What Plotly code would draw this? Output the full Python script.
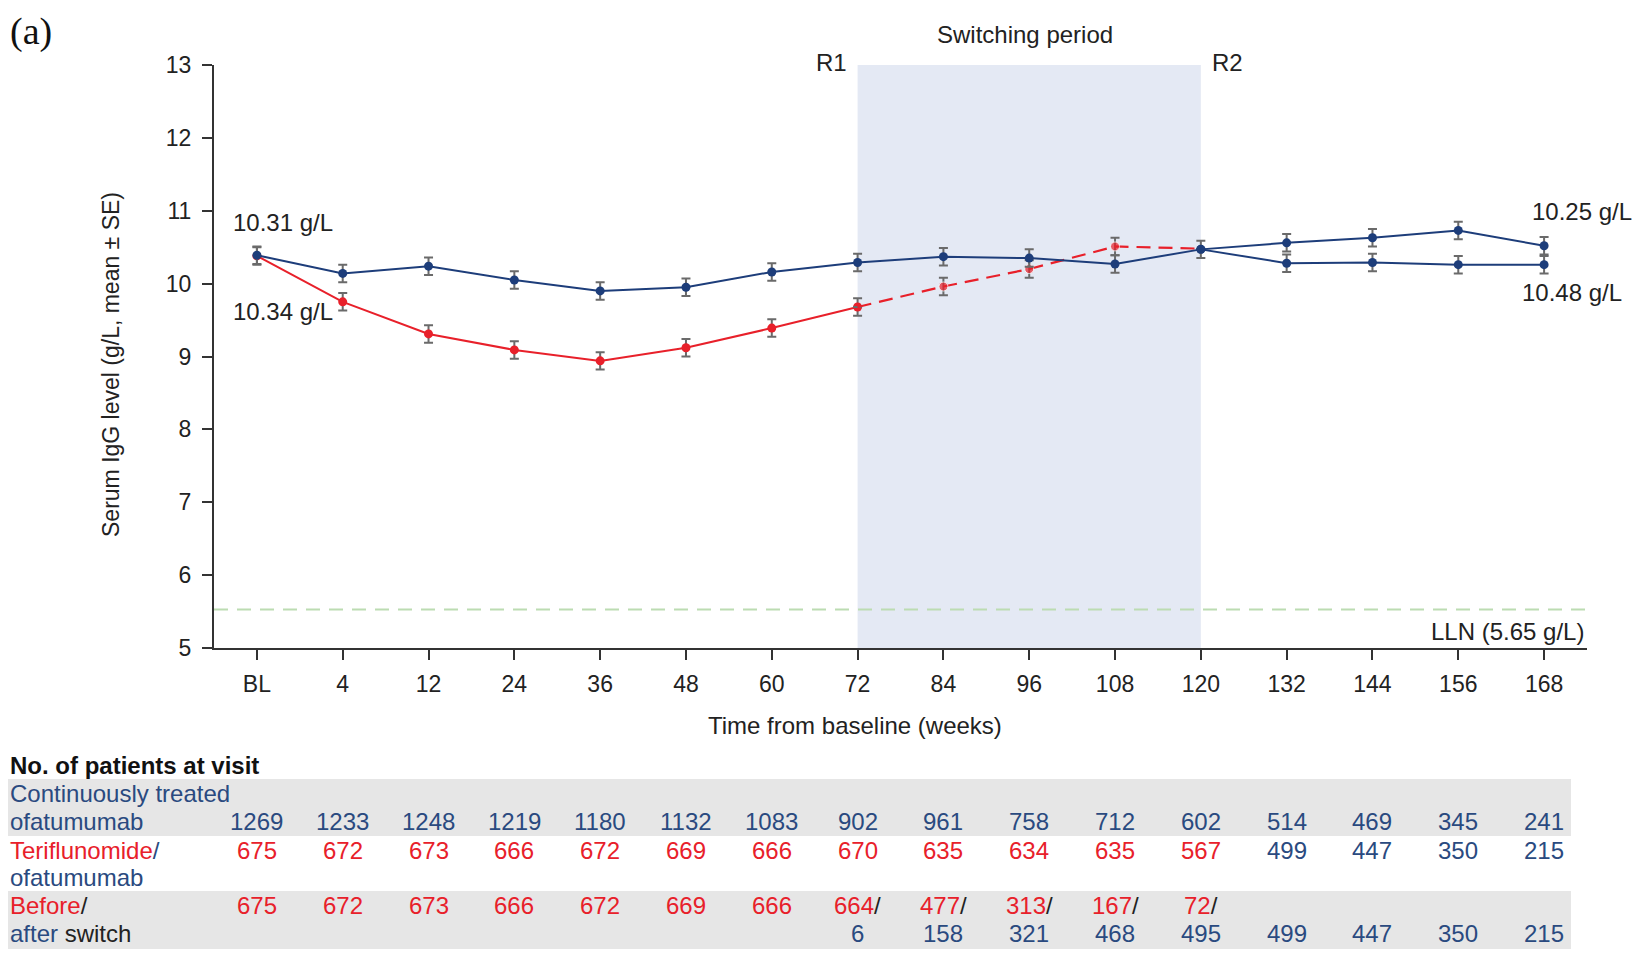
import plotly.graph_objects as go

# ---------------- data ----------------
weeks = ["BL", "4", "12", "24", "36", "48", "60", "72", "84", "96", "108", "120", "132", "144", "156", "168"]

# Continuously treated ofatumumab (mean, SE)
cont_mean = [10.39, 10.14, 10.24, 10.05, 9.90, 9.95, 10.16, 10.29, 10.37, 10.35, 10.27, 10.47, 10.56, 10.63, 10.73, 10.52]
cont_se = [0.12] * 16

# Teriflunomide before switch (BL..72 solid), switching period (72..120 dashed)
teri_weeks = ["BL", "4", "12", "24", "36", "48", "60", "72"]
teri_mean = [10.38, 9.75, 9.31, 9.09, 8.94, 9.12, 9.39, 9.68]
teri_se = [0.12] * 8

switch_weeks = ["72", "84", "96", "108", "120"]
switch_mean = [9.68, 9.96, 10.20, 10.51, 10.48]
switch_se = [None, 0.12, 0.12, 0.12, None]

# After switch (ofatumumab) 120..168
after_weeks = ["120", "132", "144", "156", "168"]
after_mean = [10.47, 10.28, 10.29, 10.26, 10.26]
after_se = [None, 0.12, 0.12, 0.12, 0.12]

lln_value = 5.53
lln_label = "LLN (5.65 g/L)"

# Number of patients at visit
n_cont = [1269, 1233, 1248, 1219, 1180, 1132, 1083, 902, 961, 758, 712, 602, 514, 469, 345, 241]
n_teri = [675, 672, 673, 666, 672, 669, 666, 670, 635, 634, 635, 567, 499, 447, 350, 215]
n_before = [675, 672, 673, 666, 672, 669, 666, 664, 477, 313, 167, 72, None, None, None, None]
n_after = [None, None, None, None, None, None, None, 6, 158, 321, 468, 495, 499, 447, 350, 215]
switch_start, switch_end = "72", "120"

# ---------------- styles ----------------
NAVY = "#1d3d7a"
NAVY_T = "#2a4a80"
RED = "#e8202a"
GREY_ERR = "#6a6a6a"
FONT = "Arial, Liberation Sans, sans-serif"
OFF = 8  # default page body margin
W, H = 1646 - OFF, 965 - OFF
L, T = 214 - OFF, 65 - OFF
R = W - (1587 - OFF)
B = H - (648 - OFF)
PW, PH = W - L - R, H - T - B

idx = {w: i for i, w in enumerate(weeks)}


def px2x(px):
    return (px - OFF - L) / PW


def px2y(py):
    return (H - B - (py - OFF)) / PH


def xi(lst):
    return [idx[w] for w in lst]


def err(vals):
    return dict(type="data", array=vals, visible=True, color=GREY_ERR, thickness=2, width=4.5)


fig = go.Figure()

fig.add_trace(go.Scatter(
    x=xi(teri_weeks), y=teri_mean, mode="lines+markers",
    line=dict(color=RED, width=2), marker=dict(color=RED, size=9),
    error_y=err(teri_se), hoverinfo="skip"))

fig.add_trace(go.Scatter(
    x=xi(switch_weeks), y=switch_mean, mode="lines+markers",
    line=dict(color=RED, width=2.2, dash="14px,8px"),
    marker=dict(color=RED, size=[0, 9, 9, 9, 0]),
    error_y=err(switch_se), hoverinfo="skip"))

fig.add_trace(go.Scatter(
    x=xi(after_weeks), y=after_mean, mode="lines+markers",
    line=dict(color=NAVY, width=2), marker=dict(color=NAVY, size=9),
    error_y=err(after_se), hoverinfo="skip"))

fig.add_trace(go.Scatter(
    x=list(range(len(weeks))), y=cont_mean, mode="lines+markers",
    line=dict(color=NAVY, width=2), marker=dict(color=NAVY, size=9),
    error_y=err(cont_se), hoverinfo="skip"))

shapes = [
    dict(type="rect", xref="x", yref="y", x0=idx[switch_start], x1=idx[switch_end], y0=5, y1=13,
         fillcolor="#e4e9f4", line=dict(width=0), layer="below"),
    dict(type="line", xref="x", yref="y", x0=-0.5, x1=len(weeks) - 0.5, y0=lln_value, y1=lln_value,
         line=dict(color="#bcdcb2", width=2, dash="14px,9px"), layer="below"),
    # table bands
    dict(type="rect", xref="paper", yref="paper", x0=px2x(3), x1=px2x(1571), y0=px2y(836), y1=px2y(779),
         fillcolor="#e6e6e6", line=dict(width=0), layer="below"),
    dict(type="rect", xref="paper", yref="paper", x0=px2x(3), x1=px2x(1571), y0=px2y(949), y1=px2y(891),
         fillcolor="#e6e6e6", line=dict(width=0), layer="below"),
    # page edge
    dict(type="line", xref="paper", yref="paper", x0=px2x(1641), x1=px2x(1641), y0=px2y(965), y1=px2y(8),
         line=dict(color="#cfcfcf", width=4)),
]

ann = []


def text(s, x, y, size=24, color="#222", xanchor="left", yanchor="middle", xref="paper", family=FONT):
    ann.append(dict(text=s, x=x, y=y, xref=xref, yref="paper", showarrow=False,
                    xanchor=xanchor, yanchor=yanchor,
                    font=dict(family=family, size=size, color=color)))


def span(s, c):
    return f'<span style="color:{c}">{s}</span>'


text("(a)", px2x(8), px2y(8), size=38, color="#111", yanchor="top",
     family="Times New Roman, Liberation Serif, serif")
text("Switching period", px2x(1025), px2y(35), size=24, xanchor="center")
text("R1", px2x(849), px2y(62), size=24, xanchor="right")
text("R2", px2x(1210), px2y(62), size=24, xanchor="left")
text("10.31 g/L", px2x(231), px2y(222), size=24)
text("10.34 g/L", px2x(231), px2y(311), size=24)
text("10.25 g/L", px2x(1530), px2y(212), size=24)
text("10.48 g/L", px2x(1520), px2y(292), size=24)
text(lln_label, px2x(1586), px2y(631), size=24, xanchor="right")
text("Time from baseline (weeks)", px2x(855), px2y(726), size=24, xanchor="center")
ann.append(dict(text="Serum IgG level (g/L, mean ± SE)", x=px2x(111), y=px2y(365),
                xref="paper", yref="paper", showarrow=False, textangle=-90,
                xanchor="center", yanchor="middle", font=dict(family=FONT, size=23, color="#222")))

# table
text("<b>No. of patients at visit</b>", px2x(8), px2y(765), size=24, color="#111")
text("Continuously treated", px2x(8), px2y(793), color=NAVY_T)
text("ofatumumab", px2x(8), px2y(821), color=NAVY_T)
text(span("Teriflunomide", RED) + span("/", NAVY_T), px2x(8), px2y(850))
text("ofatumumab", px2x(8), px2y(877), color=NAVY_T)
text(span("Before", RED) + span("/", "#222"), px2x(8), px2y(905))
text(span("after", NAVY_T) + span(" switch", "#222"), px2x(8), px2y(933))

sw0, sw1 = idx[switch_start], idx[switch_end]
for i, w in enumerate(weeks):
    text(str(n_cont[i]), i, px2y(821), color=NAVY_T, xanchor="center", xref="x")
    text(str(n_teri[i]), i, px2y(850), color=RED if i <= sw1 else NAVY_T, xanchor="center", xref="x")
    if n_before[i] is not None:
        if sw0 <= i <= sw1:
            s = span(str(n_before[i]), RED) + span("/", "#222")
        else:
            s = span(str(n_before[i]), RED)
        text(s, i, px2y(905), xanchor="center", xref="x")
    if n_after[i] is not None:
        text(str(n_after[i]), i, px2y(933), color=NAVY_T, xanchor="center", xref="x")

fig.update_layout(
    width=W, height=H,
    margin=dict(l=L, r=R, t=T, b=B),
    paper_bgcolor="white", plot_bgcolor="white",
    showlegend=False,
    shapes=shapes, annotations=ann,
    font=dict(family=FONT, size=23, color="#222"),
    xaxis=dict(range=[-0.5, 15.5], tickmode="array", tickvals=list(range(len(weeks))), ticktext=weeks,
               showgrid=False, zeroline=False, showline=True, linecolor="#333", linewidth=2,
               ticks="outside", ticklen=10, tickwidth=2, tickcolor="#333",
               tickfont=dict(family=FONT, size=23, color="#222"), ticklabelstandoff=4),
    yaxis=dict(range=[5, 13], dtick=1, showgrid=False, zeroline=False, showline=True,
               linecolor="#333", linewidth=2, ticks="outside", ticklen=10, tickwidth=2, tickcolor="#333",
               tickfont=dict(family=FONT, size=23, color="#222"), ticklabelstandoff=6),
)

fig.write_html("out.html")
